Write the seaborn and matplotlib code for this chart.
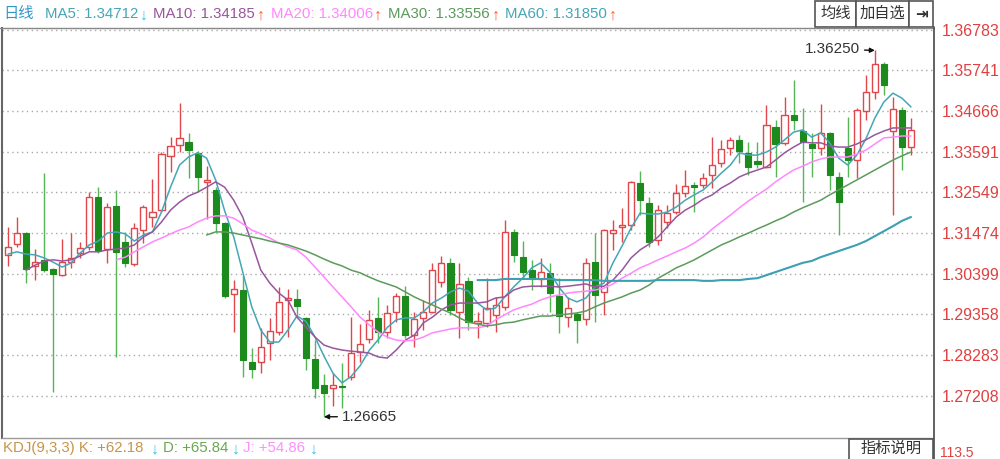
import matplotlib
matplotlib.use("Agg")
import matplotlib.pyplot as plt
from matplotlib.patches import Rectangle
import numpy as np
import pandas as pd
import seaborn as sns

# daily candles (101 bars)
OPEN = [
    1.3090, 1.3118, 1.3147, 1.3061, 1.3077, 1.3053, 1.3037, 1.3071, 1.3095, 1.3111,
    1.3241, 1.3105, 1.3218, 1.3124, 1.3066, 1.3155, 1.3189, 1.3207, 1.3349, 1.3377,
    1.3385, 1.3357, 1.3281, 1.3260, 1.3173, 1.2988, 1.2998, 1.2810, 1.2810, 1.2859,
    1.2888, 1.2972, 1.2975, 1.2925, 1.2818, 1.2750, 1.2742, 1.2747, 1.2770, 1.2836,
    1.2870, 1.2925, 1.2888, 1.2941, 1.2982, 1.2880, 1.2925, 1.2941, 1.3019, 1.3069,
    1.2941, 1.3022, 1.2912, 1.2912, 1.2933, 1.2954, 1.3150, 1.3084, 1.3050, 1.3027,
    1.3043, 1.2982, 1.2927, 1.2935, 1.2922, 1.3071, 1.2993, 1.3147, 1.3163, 1.3168,
    1.3278, 1.3226, 1.3129, 1.3176, 1.3202, 1.3252, 1.3273, 1.3273, 1.3299, 1.3330,
    1.3370, 1.3391, 1.3357, 1.3336, 1.3320, 1.3425, 1.3383, 1.3456, 1.3414, 1.3380,
    1.3370, 1.3409, 1.3294, 1.3370, 1.3338, 1.3466, 1.3516, 1.3589, 1.3414, 1.3469,
    1.3372,
]
HIGH = [
    1.3163, 1.3189, 1.3150, 1.3105, 1.3304, 1.3056, 1.3132, 1.3147, 1.3124, 1.3254,
    1.3267, 1.3226, 1.3260, 1.3150, 1.3173, 1.3220, 1.3288, 1.3359, 1.3398, 1.3487,
    1.3409, 1.3362, 1.3322, 1.3267, 1.3176, 1.3024, 1.3037, 1.2846, 1.2899, 1.2925,
    1.3006, 1.3001, 1.3001, 1.2927, 1.2867, 1.2778, 1.2781, 1.2807, 1.2927, 1.2909,
    1.2946, 1.2980, 1.2959, 1.2990, 1.3008, 1.2941, 1.2972, 1.3069, 1.3087, 1.3082,
    1.3069, 1.3032, 1.2941, 1.3029, 1.2980, 1.3181, 1.3158, 1.3126, 1.3077, 1.3082,
    1.3069, 1.3029, 1.2980, 1.2941, 1.3082, 1.3147, 1.3158, 1.3181, 1.3213, 1.3283,
    1.3309, 1.3241, 1.3220, 1.3220, 1.3275, 1.3312, 1.3281, 1.3304, 1.3398, 1.3391,
    1.3398, 1.3404, 1.3385, 1.3385, 1.3482, 1.3443, 1.3503, 1.3547, 1.3474, 1.3409,
    1.3485, 1.3412, 1.3307, 1.3451, 1.3474, 1.3561, 1.36250, 1.3594, 1.3503, 1.3477,
    1.3448,
]
LOW = [
    1.3061, 1.3111, 1.3016, 1.3024, 1.3045, 1.2731, 1.3035, 1.3056, 1.3082, 1.3103,
    1.3095, 1.3069, 1.2823, 1.3058, 1.3061, 1.3121, 1.3163, 1.3202, 1.3307, 1.3359,
    1.3291, 1.3254, 1.3184, 1.3150, 1.2977, 1.2888, 1.2770, 1.2768, 1.2781, 1.2815,
    1.2880, 1.2875, 1.2927, 1.2789, 1.2716, 1.26665, 1.2695, 1.2689, 1.2763, 1.2810,
    1.2859, 1.2859, 1.2872, 1.2914, 1.2872, 1.2849, 1.2893, 1.2938, 1.3006, 1.2933,
    1.2872, 1.2893, 1.2872, 1.2901, 1.2888, 1.2946, 1.3071, 1.3029, 1.2998, 1.3006,
    1.2941, 1.2886, 1.2901, 1.2859, 1.2907, 1.2914, 1.2933, 1.3103, 1.3124, 1.3155,
    1.3194, 1.3111, 1.3116, 1.3160, 1.3197, 1.3241, 1.3202, 1.3265, 1.3265, 1.3320,
    1.3351, 1.3330, 1.3299, 1.3317, 1.3317, 1.3294, 1.3377, 1.3417, 1.3228, 1.3294,
    1.3351, 1.3260, 1.3142, 1.3294, 1.3291, 1.3443, 1.3498, 1.3508, 1.3194, 1.3312,
    1.3351,
]
CLOSE = [
    1.3111, 1.3147, 1.3053, 1.3071, 1.3050, 1.3040, 1.3071, 1.3082, 1.3108, 1.3241,
    1.3100, 1.3215, 1.3098, 1.3069, 1.3160, 1.3215, 1.3202, 1.3354, 1.3375, 1.3396,
    1.3364, 1.3294, 1.3286, 1.3173, 1.2982, 1.3001, 1.2815, 1.2791, 1.2849, 1.2891,
    1.2967, 1.2977, 1.2956, 1.2820, 1.2742, 1.2729, 1.2750, 1.2744, 1.2833, 1.2857,
    1.2920, 1.2888, 1.2938, 1.2982, 1.2880, 1.2922, 1.2941, 1.3050, 1.3069, 1.2946,
    1.3014, 1.2914, 1.2917, 1.2951, 1.2959, 1.3150, 1.3090, 1.3045, 1.3027, 1.3045,
    1.2990, 1.2930, 1.2951, 1.2920, 1.3069, 1.2985, 1.3155, 1.3155, 1.3168, 1.3281,
    1.3233, 1.3124, 1.3207, 1.3199, 1.3252, 1.3270, 1.3267, 1.3291, 1.3325, 1.3367,
    1.3391, 1.3362, 1.3320, 1.3328, 1.3430, 1.3380, 1.3456, 1.3443, 1.3385, 1.3370,
    1.3409, 1.3299, 1.3228, 1.3338, 1.3469, 1.3516, 1.3589, 1.3534, 1.3472, 1.3372,
    1.3417,
]

# moving averages as drawn (first bar index, values)
MA5_START = 0
MA5 = [
    1.3092, 1.3098, 1.3092, 1.3090, 1.3082, 1.3071, 1.3058, 1.3069, 1.3095, 1.3116,
    1.3126, 1.3147, 1.3150, 1.3145, 1.3126, 1.3142, 1.3150, 1.3202, 1.3267, 1.3325,
    1.3346, 1.3357, 1.3343, 1.3286, 1.3205, 1.3137, 1.3045, 1.2954, 1.2893, 1.2862,
    1.2862, 1.2893, 1.2930, 1.2916, 1.2875, 1.2825, 1.2780, 1.2755, 1.2772, 1.2800,
    1.2840, 1.2868, 1.2900, 1.2920, 1.2925, 1.2925, 1.2941, 1.2964, 1.2977, 1.2993,
    1.3003, 1.2995, 1.2964, 1.2946, 1.2951, 1.2980, 1.3006, 1.3029, 1.3056, 1.3069,
    1.3045, 1.3006, 1.2977, 1.2967, 1.2977, 1.3006, 1.3016, 1.3069, 1.3113, 1.3160,
    1.3199, 1.3197, 1.3197, 1.3202, 1.3215, 1.3233, 1.3247, 1.3260, 1.3281, 1.3304,
    1.3325, 1.3357, 1.3351, 1.3351, 1.3359, 1.3372, 1.3391, 1.3411, 1.3417, 1.3398,
    1.3409, 1.3383, 1.3343, 1.3325, 1.3351, 1.3393, 1.3448, 1.3490, 1.3513, 1.3500,
    1.3477,
]
MA10_START = 2
MA10 = [
    1.3050, 1.3063, 1.3074, 1.3077, 1.3074, 1.3077, 1.3087, 1.3098, 1.3098, 1.3103,
    1.3105, 1.3108, 1.3116, 1.3137, 1.3150, 1.3176, 1.3207, 1.3228, 1.3244, 1.3254,
    1.3267, 1.3281, 1.3267, 1.3233, 1.3189, 1.3121, 1.3050, 1.3016, 1.2990, 1.2972,
    1.2927, 1.2901, 1.2875, 1.2854, 1.2846, 1.2841, 1.2838, 1.2836, 1.2833, 1.2823,
    1.2820, 1.2841, 1.2867, 1.2880, 1.2912, 1.2927, 1.2946, 1.2959, 1.2964, 1.2964,
    1.2964, 1.2967, 1.2977, 1.2980, 1.2998, 1.3006, 1.3008, 1.3008, 1.3008, 1.3006,
    1.3008, 1.3011, 1.3014, 1.3006, 1.3008, 1.3024, 1.3050, 1.3082, 1.3103, 1.3118,
    1.3137, 1.3163, 1.3189, 1.3207, 1.3220, 1.3236, 1.3247, 1.3265, 1.3278, 1.3294,
    1.3304, 1.3312, 1.3320, 1.3338, 1.3357, 1.3372, 1.3385, 1.3383, 1.3383, 1.3375,
    1.3372, 1.3372, 1.3380, 1.3391, 1.3404, 1.3414, 1.3422, 1.3422, 1.3422,
]
MA20_START = 12
MA20 = [
    1.3077, 1.3084, 1.3098, 1.3111, 1.3124, 1.3134, 1.3145, 1.3155, 1.3163, 1.3176,
    1.3186, 1.3192, 1.3192, 1.3186, 1.3171, 1.3155, 1.3145, 1.3134, 1.3121, 1.3111,
    1.3103, 1.3084, 1.3058, 1.3032, 1.3006, 1.2980, 1.2954, 1.2927, 1.2907, 1.2888,
    1.2875, 1.2867, 1.2865, 1.2867, 1.2875, 1.2886, 1.2891, 1.2896, 1.2899, 1.2899,
    1.2899, 1.2904, 1.2920, 1.2933, 1.2946, 1.2954, 1.2961, 1.2972, 1.2980, 1.2985,
    1.2990, 1.2993, 1.2995, 1.2998, 1.3003, 1.3014, 1.3029, 1.3042, 1.3056, 1.3066,
    1.3077, 1.3087, 1.3098, 1.3108, 1.3121, 1.3137, 1.3158, 1.3176, 1.3194, 1.3213,
    1.3231, 1.3247, 1.3262, 1.3281, 1.3297, 1.3312, 1.3322, 1.3333, 1.3341, 1.3346,
    1.3346, 1.3346, 1.3354, 1.3364, 1.3380, 1.3396, 1.3398, 1.3401, 1.3401,
]
MA30_START = 22
MA30 = [
    1.3142, 1.3150, 1.3150, 1.3147, 1.3142, 1.3137, 1.3132, 1.3126, 1.3121, 1.3116,
    1.3108, 1.3100, 1.3090, 1.3079, 1.3069, 1.3061, 1.3050, 1.3043, 1.3032, 1.3022,
    1.3014, 1.3006, 1.2993, 1.2980, 1.2969, 1.2959, 1.2948, 1.2938, 1.2925, 1.2914,
    1.2909, 1.2904, 1.2907, 1.2912, 1.2914, 1.2920, 1.2925, 1.2930, 1.2930, 1.2933,
    1.2935, 1.2938, 1.2943, 1.2954, 1.2964, 1.2972, 1.2980, 1.2990, 1.2998, 1.3011,
    1.3029, 1.3042, 1.3056, 1.3066, 1.3077, 1.3090, 1.3103, 1.3116, 1.3126, 1.3137,
    1.3147, 1.3158, 1.3168, 1.3179, 1.3189, 1.3202, 1.3213, 1.3223, 1.3233, 1.3247,
    1.3260, 1.3273, 1.3286, 1.3299, 1.3312, 1.3325, 1.3338, 1.3349, 1.3359,
]
MA60_START = 52
MA60 = [
    1.3024, 1.3024, 1.3024, 1.3027, 1.3027, 1.3027, 1.3027, 1.3027, 1.3027, 1.3024,
    1.3024, 1.3024, 1.3024, 1.3024, 1.3022, 1.3022, 1.3022, 1.3022, 1.3022, 1.3022,
    1.3024, 1.3024, 1.3024, 1.3024, 1.3024, 1.3022, 1.3022, 1.3024, 1.3024, 1.3024,
    1.3027, 1.3029, 1.3037, 1.3045, 1.3053, 1.3061, 1.3069, 1.3074, 1.3084, 1.3092,
    1.3100, 1.3108, 1.3116, 1.3126, 1.3139, 1.3152, 1.3165, 1.3179, 1.3189,
]

Y_TICKS = [1.27208, 1.28283, 1.29358, 1.30399, 1.31474,
           1.32549, 1.33591, 1.34666, 1.35741, 1.36783]

HEADER_LABELS = ["MA5: 1.34712", "MA10: 1.34185", "MA20: 1.34006",
                 "MA30: 1.33556", "MA60: 1.31850"]
HEADER_ARROWS = ["↓", "↑", "↑", "↑", "↑"]
KDJ_LABELS = ["KDJ(9,3,3) K: +62.18", "D: +65.84", "J: +54.86"]

RED = "#e0474c"
GREEN = "#1d8a1d"
GREEN_WICK = "#55b655"
MA_COLORS = ["#45a6b6", "#98569c", "#ff88ff", "#5b9b5b", "#3c9fb2"]
UP_ARROW = "#ff5533"
DOWN_ARROW = "#33c3ee"
W, H = 1000, 459

sns.set_theme(style="white")
plt.rcParams["font.family"] = ["Liberation Sans", "Noto Sans CJK SC", "DejaVu Sans"]

fig = plt.figure(figsize=(W / 100, H / 100), dpi=100)
ax = fig.add_axes([2 / W, 1 - 438 / H, 931 / W, 410 / H])

df = pd.DataFrame({"open": OPEN, "high": HIGH, "low": LOW, "close": CLOSE})
df["i"] = np.arange(len(df))
up = df["close"] >= df["open"]
body = (df["close"] - df["open"]).abs().clip(lower=0.00008)
bottom = df[["open", "close"]].min(axis=1)

# wicks under the bodies, hollow red bodies cover them
ax.vlines(df.loc[up, "i"], df.loc[up, "low"], df.loc[up, "high"], colors=RED, lw=1, zorder=2)
ax.vlines(df.loc[~up, "i"], df.loc[~up, "low"], df.loc[~up, "high"], colors=GREEN_WICK, lw=1, zorder=2)
ax.bar(df.loc[up, "i"], body[up], bottom=bottom[up], width=0.68,
       color="white", edgecolor=RED, linewidth=1, zorder=3)
ax.bar(df.loc[~up, "i"], body[~up], bottom=bottom[~up], width=0.68,
       color=GREEN, edgecolor=GREEN, linewidth=0.8, zorder=3)

mas = [(MA5_START, MA5), (MA10_START, MA10), (MA20_START, MA20),
       (MA30_START, MA30), (MA60_START, MA60)]
for (start, vals), col, lw in zip(mas, MA_COLORS, [1.1, 1.1, 1.1, 1.1, 1.5]):
    d = pd.DataFrame({"i": np.arange(start, start + len(vals)), "v": vals})
    sns.lineplot(data=d, x="i", y="v", ax=ax, color=col, linewidth=lw, zorder=4, legend=False)

ax.set_xlim(-0.66, 102.44)
ax.set_ylim(1.26109, 1.36835)
ax.set_xticks([])
ax.set_yticks(Y_TICKS)
ax.set_yticklabels([f"{t:.5f}" for t in Y_TICKS])
ax.yaxis.tick_right()
ax.tick_params(axis="y", length=0, pad=6, labelsize=11.5, labelcolor="#e04040")
ax.set_xlabel("")
ax.set_ylabel("")
ax.grid(axis="y", color="#a8a8a8", linestyle=(0, (1, 2.5)), linewidth=1)
ax.set_axisbelow(True)
for side in ["top", "right"]:
    ax.spines[side].set_visible(False)
ax.spines["left"].set_color("#666666")
ax.spines["left"].set_linewidth(1.5)
ax.spines["bottom"].set_color("#999999")
ax.spines["bottom"].set_linewidth(1)

# max / min markers
hi_i = int(np.argmax(HIGH))
lo_i = int(np.argmin(LOW))
ax.annotate(f"{HIGH[hi_i]:.5f}", xy=(hi_i, HIGH[hi_i]), xytext=(-15, 1),
            textcoords="offset pixels", ha="right", va="center", fontsize=11, color="#333333",
            arrowprops=dict(arrowstyle="-|>", color="#111111", lw=1, shrinkA=1, shrinkB=0,
                            mutation_scale=7), zorder=6)
ax.annotate(f"{LOW[lo_i]:.5f}", xy=(lo_i, LOW[lo_i]), xytext=(18, 0),
            textcoords="offset pixels", ha="left", va="center", fontsize=11, color="#333333",
            arrowprops=dict(arrowstyle="-|>", color="#111111", lw=1, shrinkA=1, shrinkB=0,
                            mutation_scale=7), zorder=6)

# header / footer chrome in pixel coords
ov = fig.add_axes([0, 0, 1, 1], zorder=5)
ov.set_xlim(0, W)
ov.set_ylim(H, 0)
ov.axis("off")
ov.patch.set_visible(False)

ov.plot([0, 934], [28, 28], color="#888888", lw=1)
ov.plot([933.5, 933.5], [27, H], color="#555555", lw=1.3)

ov.text(3, 14, "日线", color="#3398c8", fontsize=11, va="center", ha="left")
label_x = [45, 153, 271, 388, 505]
arrow_x = [140, 257, 374, 492, 609]
for lab, arr, lx, axx, col in zip(HEADER_LABELS, HEADER_ARROWS, label_x, arrow_x,
                                   [MA_COLORS[0], MA_COLORS[1], MA_COLORS[2], MA_COLORS[3], MA_COLORS[0]]):
    ov.text(lx, 14, lab, color=col, fontsize=10.8, va="center", ha="left")
    ov.text(axx, 15, arr, color=DOWN_ARROW if arr == "↓" else UP_ARROW,
            fontsize=11.5, va="center", ha="left")

for (x0, x1, txt) in [(815, 856, "均线"), (856, 909, "加自选"), (909, 933, "⇥")]:
    ov.add_patch(Rectangle((x0, 1), x1 - x0, 26, facecolor="white", edgecolor="#555555", lw=1.2))
    ov.text((x0 + x1) / 2, 14, txt, color="#333333", fontsize=11, va="center", ha="center",
            fontweight="bold" if txt == "⇥" else "normal")

kdj_x = [3, 163, 243]
kdj_arrow_x = [151, 232, 310]
for lab, lx, axx, col in zip(KDJ_LABELS, kdj_x, kdj_arrow_x, ["#c9944a", "#6aa84f", "#ff90ff"]):
    ov.text(lx, 448, lab, color=col, fontsize=10.8, va="center", ha="left")
    ov.text(axx, 449, "↓", color=DOWN_ARROW, fontsize=11.5, va="center", ha="left")

ov.add_patch(Rectangle((849, 439), 84, 22, facecolor="white", edgecolor="#555555", lw=1.2))
ov.text(891, 449, "指标说明", color="#333333", fontsize=11, va="center", ha="center")
ov.text(940, 446, "113.5", color="#e04040", fontsize=10, va="top", ha="left")

fig.savefig("out.png", dpi=100)
